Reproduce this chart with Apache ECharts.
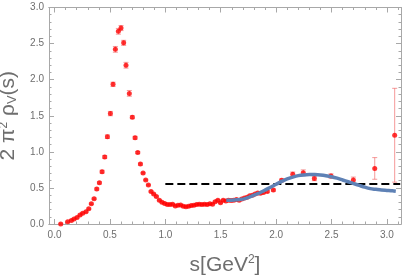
<!DOCTYPE html>
<html>
<head>
<meta charset="utf-8">
<script src="https://cdn.jsdelivr.net/npm/echarts@6/dist/echarts.min.js"></script>
<style>
html,body{margin:0;padding:0;background:#fff;}
#chart{width:403px;height:275px;}
</style>
</head>
<body>
<div id="chart"></div>
<script>
// ---- data ----
const sVals = [0.056,0.119,0.152,0.176,0.203,0.230,0.254,0.284,0.309,0.332,0.357,0.381,0.405,0.429,0.453,0.477,0.504,0.528,0.549,0.576,0.600,0.624,0.645,0.675,0.702,0.727,0.751,0.775,0.799,0.823,0.847,0.871,0.895,0.919,0.946,0.970,0.994,1.018,1.042,1.066,1.090,1.114,1.138,1.162,1.186,1.210,1.234,1.258,1.282,1.306,1.330,1.354,1.378,1.402,1.426,1.450,1.474,1.498,1.522,1.546,1.570,1.594,1.618,1.642,1.666,1.690,1.714,1.738,1.762,1.786,1.810,1.834,1.858,1.885,1.920,1.975,2.050,2.150,2.245,2.345,2.495,2.697,2.890,3.070];
const rhoVals = [0.00,0.03,0.05,0.07,0.09,0.125,0.15,0.17,0.21,0.28,0.35,0.485,0.57,0.725,0.93,1.21,1.53,1.935,2.42,2.67,2.715,2.51,2.20,1.81,1.48,1.195,0.99,0.83,0.705,0.61,0.54,0.45,0.415,0.38,0.33,0.30,0.285,0.27,0.27,0.275,0.25,0.26,0.265,0.245,0.24,0.245,0.255,0.26,0.27,0.275,0.27,0.275,0.27,0.28,0.275,0.31,0.33,0.295,0.33,0.32,0.33,0.325,0.33,0.34,0.33,0.345,0.36,0.37,0.39,0.40,0.415,0.43,0.425,0.435,0.45,0.47,0.605,0.69,0.71,0.63,0.665,0.61,0.77,1.23];
const errVals = [0.01,0.01,0.01,0.01,0.01,0.01,0.01,0.01,0.01,0.01,0.01,0.015,0.015,0.02,0.02,0.025,0.03,0.03,0.04,0.04,0.035,0.035,0.04,0.04,0.02,0.02,0.015,0.015,0.01,0.01,0.01,0.01,0.01,0.01,0.01,0.01,0.01,0.01,0.01,0.01,0.01,0.01,0.01,0.01,0.01,0.01,0.01,0.01,0.01,0.01,0.01,0.01,0.01,0.01,0.01,0.01,0.01,0.01,0.01,0.01,0.01,0.01,0.01,0.01,0.01,0.01,0.01,0.01,0.01,0.01,0.01,0.01,0.01,0.015,0.015,0.015,0.02,0.03,0.04,0.03,0.03,0.04,0.15,0.65];
const fitS = [1.55,1.6,1.65,1.7,1.75,1.8,1.85,1.9,1.95,2.0,2.05,2.1,2.15,2.2,2.25,2.3,2.35,2.4,2.45,2.5,2.55,2.6,2.65,2.7,2.75,2.8,2.85,2.9,2.95,3.0,3.05,3.08];
const fitV = [0.33,0.33,0.335,0.345,0.37,0.40,0.43,0.47,0.51,0.55,0.59,0.625,0.65,0.67,0.68,0.685,0.685,0.68,0.67,0.655,0.635,0.61,0.585,0.56,0.535,0.51,0.49,0.48,0.47,0.465,0.46,0.455];
const constS = [1.0, 3.12];
const constV = [0.555, 0.555];
const xMajor = [0,0.5,1,1.5,2,2.5,3];
const xMinor = [0.1,0.2,0.3,0.4,0.6,0.7,0.8,0.9,1.1,1.2,1.3,1.4,1.6,1.7,1.8,1.9,2.1,2.2,2.3,2.4,2.6,2.7,2.8,2.9,3.1];

// ---- chart ----
const frame = '#a8a8a8';
const labelColor = '#6e6e6e';
const pts = sVals.map((s,i)=>[s, rhoVals[i]]);
const errs = sVals.map((s,i)=>[s, rhoVals[i]-errVals[i], rhoVals[i]+errVals[i]]);

function xAx(pos, ticks, len, labels){
  return {
    type:'value', min:-0.05, max:3.127, position:pos,
    axisLine:{show:true, onZero:false, lineStyle:{color:frame, width:1}},
    axisTick:{show:true, inside:true, length:len, customValues:ticks, lineStyle:{color:frame}},
    axisLabel: labels ? {show:true, customValues:xMajor, formatter:v=>v.toFixed(1), color:labelColor, fontSize:10, fontFamily:'Liberation Sans', margin:6} : {show:false},
    splitLine:{show:false}
  };
}
function yAx(pos, labels){
  return {
    type:'value', min:0, max:3, interval:0.5, position:pos,
    axisLine:{show:true, onZero:false, lineStyle:{color:frame, width:1}},
    axisTick:{show:true, inside:true, length:5, lineStyle:{color:frame}},
    minorTick:{show:true, splitNumber:5, length:2.5, lineStyle:{color:frame}},
    axisLabel: labels ? {show:true, formatter:v=>v.toFixed(1), color:labelColor, fontSize:10, fontFamily:'Liberation Sans', margin:5} : {show:false},
    splitLine:{show:false}, minorSplitLine:{show:false}
  };
}

const xa0 = xAx('bottom', xMajor, 5, true);
xa0.name = 's[GeV{sup|2}]';
xa0.nameLocation = 'middle';
xa0.nameGap = 30;
xa0.nameTextStyle = {color:labelColor, fontSize:21, fontFamily:'Liberation Sans', rich:{sup:{fontSize:12, color:labelColor, fontFamily:'Liberation Sans', padding:[0,0,10,0]}}};
const ya0 = yAx('left', true);
ya0.name = '2 π{sup|2} ρ{sub|V}(s)';
ya0.nameLocation = 'middle';
ya0.nameRotate = 90;
ya0.nameGap = 27;
ya0.nameTextStyle = {color:labelColor, fontSize:21, fontFamily:'Liberation Sans', rich:{sup:{fontSize:12, color:labelColor, fontFamily:'Liberation Sans', padding:[0,0,10,0]}, sub:{fontSize:13, color:labelColor, fontFamily:'Liberation Sans', padding:[8,0,0,0]}}};

const chart = echarts.init(document.getElementById('chart'), null, {renderer:'canvas'});
chart.setOption({
  animation:false,
  backgroundColor:'#fff',
  grid:{left:49, right:2, top:7.5, bottom:51, containLabel:false, outerBoundsMode:'none'},
  xAxis:[xa0, xAx('bottom', xMinor, 2.5, false), xAx('top', xMajor, 5, false), xAx('top', xMinor, 2.5, false)],
  yAxis:[ya0, yAx('right', false)],
  series:[
    {
      type:'custom', xAxisIndex:0, yAxisIndex:0, data:errs, clip:true,
      renderItem:function(params, api){
        const x = api.value(0);
        const lo = api.coord([x, api.value(1)]);
        const hi = api.coord([x, api.value(2)]);
        const w = 2.5;
        const st = {stroke:'rgba(240,100,100,0.65)', lineWidth:1};
        return {type:'group', children:[
          {type:'line', shape:{x1:lo[0], y1:lo[1], x2:hi[0], y2:hi[1]}, style:st},
          {type:'line', shape:{x1:lo[0]-w, y1:lo[1], x2:lo[0]+w, y2:lo[1]}, style:st},
          {type:'line', shape:{x1:hi[0]-w, y1:hi[1], x2:hi[0]+w, y2:hi[1]}, style:st}
        ]};
      },
      z:1
    },
    {
      type:'scatter', xAxisIndex:0, yAxisIndex:0, data:pts, symbol:'circle', symbolSize:5,
      itemStyle:{color:'#ff0000'}, z:2
    },
    {
      type:'line', xAxisIndex:0, yAxisIndex:0, data:constS.map((s,i)=>[s,constV[i]]), showSymbol:false, symbol:'none',
      lineStyle:{color:'#000', width:2, type:[8,4]}, z:3
    },
    {
      type:'line', xAxisIndex:0, yAxisIndex:0, data:fitS.map((s,i)=>[s,fitV[i]]), showSymbol:false, symbol:'none', smooth:0.3,
      lineStyle:{color:'#5e81b5', width:3.5}, z:4
    }
  ]
});
</script>
</body>
</html>
